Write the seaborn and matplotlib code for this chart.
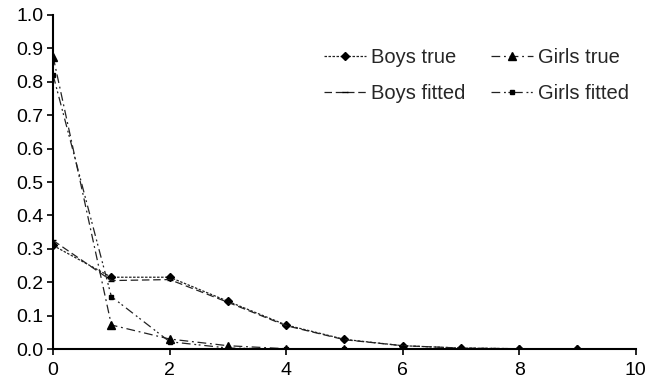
import matplotlib
matplotlib.use("Agg")
import matplotlib.pyplot as plt
import seaborn as sns
import pandas as pd

# Number of events (x) and the observed / fitted proportions per group
counts = [0, 1, 2, 3, 4, 5, 6, 7, 8, 9]
boys_true = [0.310, 0.215, 0.215, 0.143, 0.072, 0.029, 0.010, 0.003, 0.001, 0.000]
boys_fitted = [0.325, 0.205, 0.208, 0.140, 0.070, 0.028, 0.010, 0.003, 0.001, 0.000]
girls_true = [0.875, 0.072, 0.030, 0.010, 0.001, 0.000, 0.000, 0.000, 0.000, 0.000]
girls_fitted = [0.820, 0.157, 0.022, 0.003, 0.000, 0.000, 0.000, 0.000, 0.000, 0.000]

sns.set_theme(style="ticks")
plt.rcParams["font.family"] = ["Liberation Sans", "DejaVu Sans"]

fig = plt.figure(figsize=(6.48, 3.84), dpi=100)
ax = fig.add_axes([0.082, 0.091, 0.899, 0.870])

# legend fills column-wise: boys in the left column, girls in the right
series = [
    ("Boys true", boys_true, "D", 4.5, (2, 1.2)),
    ("Boys fitted", boys_fitted, "_", 5, (6, 3)),
    ("Girls true", girls_true, "^", 6, (7, 3, 1.5, 3)),
    ("Girls fitted", girls_fitted, "s", 3.5, (7, 3, 1.5, 2, 1.5, 3)),
]

for name, vals, mk, ms, dash in series:
    df = pd.DataFrame({"x": counts, "y": vals})
    sns.lineplot(data=df, x="x", y="y", ax=ax, color="#222222", lw=0.9,
                 marker=mk, markersize=ms, markeredgecolor="black",
                 markerfacecolor="black", markeredgewidth=1.0,
                 label=name)
    ax.lines[-1].set_dashes(dash)

ax.set_xlim(0, 10)
ax.set_ylim(0, 1.0)
ax.set_xticks(range(0, 11, 2))
ax.set_yticks([i / 10 for i in range(11)])
ax.set_yticklabels([f"{i / 10:.1f}" for i in range(11)])
ax.set_xlabel("")
ax.set_ylabel("")
ax.tick_params(axis="both", labelsize=14, colors="black", length=4, width=1.2,
               direction="out", pad=3)
ax.tick_params(axis="x", pad=5)
for s in ["left", "bottom"]:
    ax.spines[s].set_color("black")
    ax.spines[s].set_linewidth(1.5)
sns.despine(ax=ax)

handles, labels = ax.get_legend_handles_labels()
leg = ax.legend(handles, labels, ncol=2, frameon=False, fontsize=14.5,
                loc="upper right", bbox_to_anchor=(1.02, 0.955),
                handlelength=2.1, handletextpad=0.25, columnspacing=1.25,
                labelspacing=0.85)
for h, (_, _, _, _, dash) in zip(leg.get_lines(), series):
    h.set_dashes(dash)

fig.savefig("out.png", dpi=100)
